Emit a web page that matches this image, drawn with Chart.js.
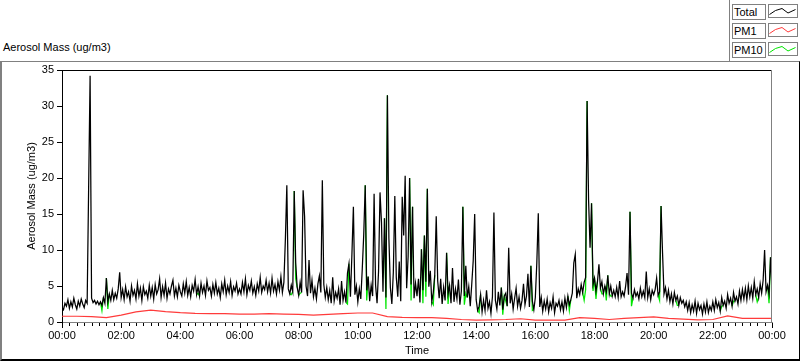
<!DOCTYPE html>
<html>
<head>
<meta charset="utf-8">
<script src="https://cdn.jsdelivr.net/npm/chart.js@4"></script>
<style>
html,body{margin:0;padding:0;background:#fff;}
body{width:800px;height:361px;position:relative;overflow:hidden;font-family:"Liberation Sans",Arial,sans-serif;font-size:11px;color:#000;}
#chart{position:absolute;left:0;top:0;}
.frame{position:absolute;left:0;top:61px;width:800px;height:300px;box-sizing:border-box;border-top:1px solid #808080;border-left:2px solid #808080;border-right:1px solid #000;border-bottom:2px solid #000;}
.legsep{position:absolute;left:729px;top:0;width:1px;height:61px;background:#808080;}
#title{position:absolute;left:3px;top:41px;line-height:13px;white-space:nowrap;}
.lg-text{position:absolute;left:732px;width:34px;height:16px;box-sizing:border-box;border:1px solid #808080;padding-left:1px;line-height:14px;white-space:nowrap;background:#fff;}
.lg-line{position:absolute;left:768px;width:30px;height:14px;box-sizing:border-box;border:1px solid #808080;background:#fff;}
.lg-line svg{position:absolute;left:0;top:0;}
</style>
</head>
<body>
<div class="frame"></div>
<div class="legsep"></div>
<div id="title">Aerosol Mass (ug/m3)</div>
<div id="legend"></div>
<canvas id="chart" width="800" height="361"></canvas>
<script>
// ---------- DATA ----------
const seriesNames = ['Total', 'PM1', 'PM10'];
const seriesColors = ['#000000', '#ff3b3b', '#00e600'];

// Total aerosol mass, one reading every 3 minutes from 00:00 to 24:00 (one row = one hour)
const TOTAL_STEP_MIN = 3;
const totalValues = [
  2.0,1.7,2.6,2.2,3.1,1.9,2.8,2.1,3.3,2.4,1.8,2.9,2.2,3.2,2.5,2.0,3.0,2.6,18.5,34.2,
  3.3,2.7,3.0,2.5,2.9,2.4,2.8,2.3,3.4,2.6,6.1,2.8,3.9,3.0,4.4,3.1,4.0,3.3,4.6,6.9,
  3.4,4.5,3.1,4.9,3.5,4.2,2.9,5.0,3.7,4.4,3.2,5.3,3.6,4.7,3.0,4.9,3.8,4.3,3.3,5.1,
  3.6,4.8,3.2,5.2,3.9,4.5,6.0,3.4,4.9,3.7,5.4,3.3,4.6,3.9,5.0,5.8,3.6,4.7,3.5,5.1,
  4.2,3.6,5.3,4.0,5.6,3.7,4.8,3.5,5.1,4.3,5.9,3.8,4.9,3.6,5.4,4.1,5.0,3.7,5.7,4.4,
  4.8,3.6,5.2,4.0,5.5,3.9,4.7,3.4,5.3,4.2,5.8,3.8,5.0,4.1,5.6,3.7,4.9,4.3,5.4,3.9,
  4.6,3.9,5.5,4.2,6.0,3.8,5.1,4.4,5.7,4.0,4.9,3.7,5.3,4.3,6.2,4.1,5.0,4.5,5.8,4.2,
  5.4,4.0,6.1,4.3,5.2,3.9,5.6,4.4,6.3,4.1,5.5,11.4,19.0,4.6,3.9,5.1,4.2,18.2,8.2,4.8,
  3.7,5.5,4.1,18.3,14.7,5.0,3.6,8.6,4.0,5.8,3.5,4.7,3.2,5.3,6.4,4.1,19.7,5.2,3.4,4.8,
  3.1,4.4,2.6,6.2,2.9,4.1,3.3,4.6,2.4,5.7,3.0,4.2,2.7,6.8,8.1,3.5,9.4,16.0,3.8,5.0,
  2.8,4.6,3.2,7.4,12.2,19.0,4.4,6.3,2.9,5.1,3.6,17.8,5.1,2.6,7.0,18.0,13.8,4.2,14.4,3.4,
  31.5,11.6,4.8,2.5,6.9,17.5,6.2,3.5,8.4,2.9,17.4,12.0,20.3,4.7,9.1,20.0,5.2,16.0,3.3,5.4,
  3.6,6.0,2.7,10.1,4.4,12.0,5.6,18.5,4.9,7.1,2.8,4.1,6.5,14.7,5.7,3.3,6.0,2.5,4.8,3.0,
  9.6,3.9,5.1,2.6,7.5,2.8,4.6,3.2,5.9,2.4,4.3,16.0,3.6,7.8,3.4,4.9,2.2,5.2,8.5,15.0,
  3.1,1.6,2.2,3.8,1.4,3.0,1.6,4.4,1.9,2.8,1.2,3.5,15.2,3.0,1.8,4.2,2.3,4.8,1.7,3.6,
  4.0,2.2,10.3,2.6,3.9,1.8,3.3,4.7,2.2,3.5,1.9,3.0,5.3,2.4,3.6,6.7,2.1,7.8,2.9,1.7,
  3.4,8.2,15.1,2.1,3.4,1.5,2.9,1.8,3.2,1.4,2.7,1.9,3.5,1.3,2.6,2.2,3.0,1.7,2.8,1.5,
  3.3,2.0,3.6,2.4,3.1,4.0,8.2,9.4,3.3,4.6,3.8,5.2,4.1,5.5,6.2,30.7,16.9,10.3,16.5,5.2,
  6.1,4.3,5.6,8.0,4.7,5.6,3.9,5.0,4.2,6.5,3.9,5.0,3.6,4.4,3.5,4.8,3.4,5.7,3.5,4.2,
  3.6,4.9,6.8,3.8,15.3,4.0,3.3,4.5,3.6,4.1,3.2,4.7,3.5,4.3,3.4,7.0,3.4,4.6,3.1,4.4,
  3.8,4.5,6.1,3.7,4.2,16.1,9.6,3.9,4.8,3.2,4.4,2.8,3.9,2.5,4.1,3.0,3.6,2.3,3.4,2.6,
  3.0,2.1,2.8,1.6,2.7,1.3,2.4,1.5,2.9,1.2,2.6,1.7,2.3,1.1,2.5,1.4,2.8,1.3,2.2,1.6,
  2.8,1.6,3.1,2.0,2.7,1.5,3.4,2.3,2.9,1.9,3.8,2.6,3.3,2.2,4.1,2.9,3.5,2.5,4.3,3.0,
  4.5,3.2,4.7,3.1,5.0,3.5,4.8,3.3,5.6,3.8,4.6,3.4,5.3,4.0,5.8,10.0,4.2,5.1,3.9,9.0,
  4.6
];

// PM10 equals Total except at these readings (index -> value), where green shows below black
const pm10Lower = {
  27:1.6, 31:1.8, 92:4.0, 155:3.8, 158:6.0, 161:4.0, 193:2.5, 206:3.0, 219:1.8,
  236:3.0, 244:2.6, 246:3.5, 251:2.4, 261:2.5, 272:2.4, 273:4.0, 282:1.3,
  298:1.0, 300:2.9, 318:1.6, 343:1.6, 353:3.0, 354:4.5, 359:4.3, 361:3.2,
  365:3.9, 368:3.0, 371:3.6, 385:2.2, 404:3.0, 416:2.3, 446:2.2, 454:2.9,
  470:2.8, 478:2.6
};

// PM1, one reading every 30 minutes
const PM1_STEP_MIN = 30;
const pm1Values = [
  0.8,0.8,0.75,0.6,0.95,1.4,1.65,1.45,1.3,1.2,1.15,1.15,
  1.1,1.1,1.15,1.1,1.05,0.95,1.05,1.15,1.25,1.25,0.75,0.65,
  0.6,0.6,0.5,0.35,0.25,0.3,0.35,0.45,0.25,0.25,0.25,0.6,
  0.5,0.35,0.5,0.6,0.7,0.5,0.4,0.3,0.35,0.85,0.5,0.5,
  0.5
];

const xTickValues = [];            // minutes, minor tick every 15 min
for (let m = 0; m <= 1440; m += 15) xTickValues.push(m);
const xTickLabels = ['00:00','02:00','04:00','06:00','08:00','10:00','12:00',
                     '14:00','16:00','18:00','20:00','22:00','00:00'];
const yTickValues = [0,5,10,15,20,25,30,35];

// ---------- LEGEND (HTML) ----------
const legend = document.getElementById('legend');
seriesNames.forEach((name, k) => {
  const top = 4 + k * 19;
  const t = document.createElement('div');
  t.className = 'lg-text'; t.style.top = top + 'px'; t.textContent = name;
  legend.appendChild(t);
  const l = document.createElement('div');
  l.className = 'lg-line'; l.style.top = top + 'px';
  l.innerHTML = '<svg width="28" height="12"><polyline points="0.5,9.5 6.5,5.5 13,3.5 19,8 26.5,4.5" fill="none" stroke="' + seriesColors[k] + '" stroke-width="1"/></svg>';
  legend.appendChild(l);
});

// ---------- CHART ----------
const FONT = "'Liberation Sans', Arial, sans-serif";
Chart.defaults.font.family = FONT;
Chart.defaults.font.size = 11;
Chart.defaults.color = '#000';

const totalPts = totalValues.map((v, i) => ({x: i * TOTAL_STEP_MIN, y: v}));
const pm10Pts = totalValues.map((v, i) => ({x: i * TOTAL_STEP_MIN, y: (pm10Lower[i] !== undefined ? pm10Lower[i] : v)}));
const pm1Pts = pm1Values.map((v, i) => ({x: i * PM1_STEP_MIN, y: v}));

const frameAndTicks = {
  id: 'frameAndTicks',
  afterDraw(chart) {
    const {ctx, chartArea: a} = chart;
    const xs = chart.scales.x;
    ctx.save();
    ctx.lineWidth = 1;
    ctx.strokeStyle = '#000';
    ctx.beginPath();
    ctx.moveTo(a.left, a.top + 0.5); ctx.lineTo(a.right, a.top + 0.5);
    ctx.stroke();
    ctx.strokeStyle = '#808080';
    ctx.beginPath();
    ctx.moveTo(a.right - 0.5, a.top); ctx.lineTo(a.right - 0.5, a.bottom + 1);
    ctx.stroke();
    ctx.strokeStyle = '#000';
    ctx.beginPath();
    xs.ticks.forEach(t => {
      const px = Math.round(xs.getPixelForValue(t.value)) + 0.5;
      const len = (t.value % 120 === 0) ? 5 : 3;
      ctx.moveTo(px, a.bottom + 1); ctx.lineTo(px, a.bottom + 1 + len);
    });
    ctx.stroke();
    ctx.restore();
  }
};

const lineDs = (label, data, color, extra) => Object.assign({
  label, data, borderColor: color, backgroundColor: color,
  borderWidth: 1, pointRadius: 0, pointHoverRadius: 0, tension: 0, fill: false
}, extra || {});

// PM10 is hidden beneath Total wherever both are equal
const pm10Segment = {
  borderColor: (c) => (pm10Lower[c.p0DataIndex] !== undefined || pm10Lower[c.p1DataIndex] !== undefined)
    ? seriesColors[2] : 'rgba(0,0,0,0)'
};

new Chart(document.getElementById('chart'), {
  type: 'line',
  data: {
    datasets: [
      lineDs(seriesNames[0], totalPts, seriesColors[0], {borderWidth: 1.25}),
      lineDs(seriesNames[1], pm1Pts, seriesColors[1], {borderWidth: 1.2}),
      lineDs(seriesNames[2], pm10Pts, seriesColors[2], {segment: pm10Segment, borderWidth: 1.25})
    ]
  },
  options: {
    responsive: false,
    animation: false,
    devicePixelRatio: 1,
    layout: {padding: {left: 0, top: 70, right: 28, bottom: 0}},
    plugins: {legend: {display: false}, tooltip: {enabled: false}, title: {display: false}},
    scales: {
      x: {
        type: 'linear', min: 0, max: 1440,
        afterFit(s) { s.height = 39; },
        afterBuildTicks(s) { s.ticks = xTickValues.map(v => ({value: v})); },
        grid: {display: false, drawTicks: false},
        border: {display: true, color: '#808080', width: 1},
        ticks: {
          autoSkip: false, maxRotation: 0, minRotation: 0, padding: 7, color: '#000',
          callback: (v) => (v % 120 === 0 ? xTickLabels[v / 120] : '')
        },
        title: {display: true, text: 'Time', color: '#000', padding: {top: 0, bottom: 3}}
      },
      y: {
        min: 0, max: 35,
        afterFit(s) { s.width = 62; },
        afterBuildTicks(s) { s.ticks = yTickValues.map(v => ({value: v})); },
        grid: {drawOnChartArea: false, drawTicks: true, tickLength: 5, tickColor: '#000', color: '#000'},
        border: {display: true, color: '#000', width: 1},
        ticks: {padding: 3, color: '#000'},
        title: {display: true, text: 'Aerosol Mass (ug/m3)', color: '#000', padding: {top: 25, bottom: 0}}
      }
    }
  },
  plugins: [frameAndTicks]
});
</script>
</body>
</html>
